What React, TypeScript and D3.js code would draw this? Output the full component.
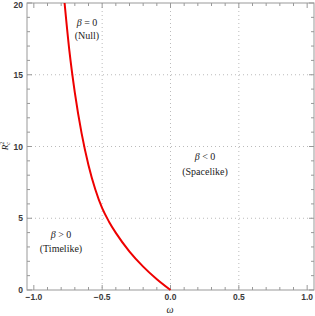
import React from "react";
import * as d3 from "d3";

// curve: omega vs R_c^2 (ascending omega)
const omega = [-0.775, -0.74, -0.7, -0.65, -0.6, -0.55, -0.5, -0.45, -0.4, -0.3, -0.2, -0.1, 0];
const rc2 = [20.0, 16.68, 13.76, 10.9, 8.7, 7.0, 5.7, 4.76, 3.98, 2.68, 1.63, 0.75, 0];

const xMajor = [-1, -0.5, 0, 0.5, 1];
const xMajorLabels = ["\u22121.0", "\u22120.5", "0.0", "0.5", "1.0"];
const yMajor = [0, 5, 10, 15, 20];
const xGrid = [-0.5, 0, 0.5];
const yGrid = [5, 10, 15];

const W = 315, H = 316;
const left = 27, right = 314, top = 3, bottom = 290;

const App = () => {
  const x = d3.scaleLinear().domain([-1.05, 1.05]).range([left, right]);
  const y = d3.scaleLinear().domain([0, 20]).range([bottom, top]);

  const pts: [number, number][] = omega.map((w, i) => [w, rc2[i]]);
  const line = d3.line<[number, number]>()
    .x((d) => x(d[0]))
    .y((d) => y(d[1]))
    .curve(d3.curveMonotoneX);

  const xMinor = d3.range(-10, 11).map((i) => i / 10).filter((v) => !xMajor.some((m) => Math.abs(m - v) < 1e-9));
  const yMinor = d3.range(0, 21).filter((v) => v % 5 !== 0);

  const tickCol = "#999";
  const labelFont = { fontFamily: "Liberation Sans, Arial, sans-serif", fontWeight: "bold" as const, fontSize: 8.5, fill: "#3a3a3a" };
  const serif = { fontFamily: "Liberation Serif, Times New Roman, serif", fontSize: 10, fill: "#222" };

  return (
    <svg width={W} height={H} style={{ position: "absolute", left: 0, top: 0, background: "#fff" }}>
      {/* grid */}
      <g stroke="#bbb" strokeWidth={1} strokeDasharray="1,3">
        {xGrid.map((v) => (
          <line key={`gx${v}`} x1={x(v)} x2={x(v)} y1={top} y2={bottom} />
        ))}
        {yGrid.map((v) => (
          <line key={`gy${v}`} x1={left} x2={right} y1={y(v)} y2={y(v)} />
        ))}
      </g>

      {/* ticks, inward on all sides */}
      <g stroke={tickCol} strokeWidth={1}>
        {xMajor.map((v) => (
          <g key={`xt${v}`}>
            <line x1={x(v)} x2={x(v)} y1={bottom} y2={bottom - 5} />
            <line x1={x(v)} x2={x(v)} y1={top} y2={top + 5} />
          </g>
        ))}
        {xMinor.map((v) => (
          <g key={`xm${v}`}>
            <line x1={x(v)} x2={x(v)} y1={bottom} y2={bottom - 3} />
            <line x1={x(v)} x2={x(v)} y1={top} y2={top + 3} />
          </g>
        ))}
        {yMajor.map((v) => (
          <g key={`yt${v}`}>
            <line x1={left} x2={left + 5} y1={y(v)} y2={y(v)} />
            <line x1={right} x2={right - 5} y1={y(v)} y2={y(v)} />
          </g>
        ))}
        {yMinor.map((v) => (
          <g key={`ym${v}`}>
            <line x1={left} x2={left + 3} y1={y(v)} y2={y(v)} />
            <line x1={right} x2={right - 3} y1={y(v)} y2={y(v)} />
          </g>
        ))}
      </g>

      {/* frame */}
      <rect x={left} y={top} width={right - left} height={bottom - top} fill="none" stroke={tickCol} strokeWidth={1} />

      {/* tick labels */}
      {xMajor.map((v, i) => (
        <text key={`xl${v}`} x={x(v)} y={bottom + 9.5} textAnchor="middle" {...labelFont}>
          {xMajorLabels[i]}
        </text>
      ))}
      {yMajor.map((v) => (
        <text key={`yl${v}`} x={left - 4} y={Math.max(y(v) + 3, 7.5)} textAnchor="end" {...labelFont}>
          {v}
        </text>
      ))}

      {/* curve */}
      <path d={line(pts) || ""} fill="none" stroke="#ee0000" strokeWidth={2} />

      {/* region labels */}
      <text x={87} y={26} textAnchor="middle" {...serif}>
        <tspan fontStyle="italic">β</tspan> = 0
      </text>
      <text x={87} y={39} textAnchor="middle" {...serif}>(Null)</text>

      <text x={205} y={160} textAnchor="middle" {...serif}>
        <tspan fontStyle="italic">β</tspan> &lt; 0
      </text>
      <text x={205} y={175} textAnchor="middle" {...serif}>(Spacelike)</text>

      <text x={61} y={238} textAnchor="middle" {...serif}>
        <tspan fontStyle="italic">β</tspan> &gt; 0
      </text>
      <text x={61} y={252} textAnchor="middle" {...serif}>(Timelike)</text>

      {/* axis labels */}
      <text x={170} y={313} textAnchor="middle" {...serif} fontStyle="italic" fontSize={10}>ω</text>
      <g transform="translate(8,146) rotate(-90)">
        <text x={0} y={0} textAnchor="middle" {...serif} fontSize={9}>
          <tspan fontStyle="italic">R</tspan>
          <tspan fontSize={6} dy={-4}>2</tspan>
          <tspan fontSize={6} dx={-3} dy={6} fontStyle="italic">c</tspan>
        </text>
      </g>
    </svg>
  );
};

export default App;
